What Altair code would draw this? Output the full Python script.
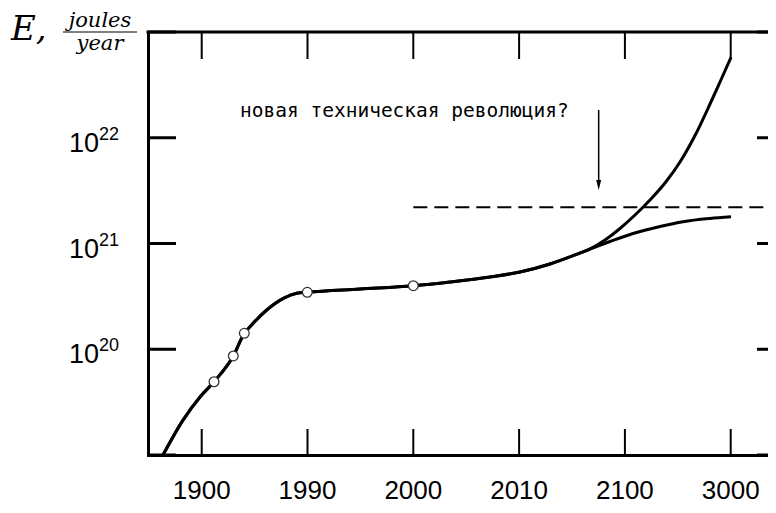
import altair as alt
import pandas as pd

# ---- data ----
YEAR_LABELS = ["1900", "1990", "2000", "2010", "2100", "3000"]
TICK_POS = [0, 1, 2, 3, 4, 5]
Y_TICK_VALUES = [1e19, 1e20, 1e21, 1e22, 1e23]
Y_LABEL_EXPONENTS = [20, 21, 22]
Y_LABEL_BASE = "10"

COMMON_X = [-0.3658, -0.1767, -0.0161, 0.1163, 0.2987, 0.4026, 0.4565, 0.6144, 0.7713,
            0.8979, 0.9981, 1.4962, 2.0, 2.3469, 2.725, 3.0085, 3.2921, 3.5284, 3.6701]
COMMON_E = [1.0e19, 2.14e19, 3.54e19, 4.93e19, 8.64e19, 1.415e20, 1.634e20, 2.35e20,
            3.03e20, 3.38e20, 3.455e20, 3.713e20, 3.99e20, 4.325e20, 4.82e20, 5.38e20,
            6.40e20, 7.79e20, 8.87e20]
UPPER_X = [3.8119, 3.9537, 4.0955, 4.2372, 4.379, 4.5208, 4.6626, 4.8043, 4.8989, 5.0028]
UPPER_E = [1.079e21, 1.387e21, 1.86e21, 2.578e21, 3.734e21, 5.897e21, 1.05e22, 2.085e22,
           3.367e22, 5.741e22]
LOWER_X = [3.8592, 4.0766, 4.3318, 4.5492, 4.8043, 5.0028]
LOWER_E = [1.044e21, 1.243e21, 1.448e21, 1.607e21, 1.724e21, 1.788e21]

CIRCLE_X = [0.1163, 0.2987, 0.4026, 0.9981, 2.0]
CIRCLE_E = [4.93e19, 8.64e19, 1.415e20, 3.455e20, 3.99e20]

DASH_X0, DASH_X1, DASH_E = 2.0, 5.36, 2.2e21
ARROW_X, ARROW_TOP, ARROW_TIP = 3.752, 1.83e22, 3.57e21
NOTE_X, NOTE_E = 0.362, 1.57e22
NOTE_TEXT = "новая техническая революция?"

TITLE_MAIN = "E,"
TITLE_NUM = "joules"
TITLE_DEN = "year"

# ---- layout ----
W, H = 620, 423
xs = alt.Scale(domain=[-0.5076, 5.3525], nice=False, zero=False)
ys = alt.Scale(type="log", domain=[1e19, 1e23], nice=False)
xa = alt.Axis(labels=False, ticks=False, grid=False, domain=True, domainWidth=3,
              domainColor="black", title=None, domainCap="square")
ya = alt.Axis(labels=False, ticks=False, grid=False, domain=True, domainWidth=3,
              domainColor="black", title=None, domainCap="square")

rows = []
for x, e in zip(COMMON_X + UPPER_X, COMMON_E + UPPER_E):
    rows.append({"x": x, "E": e, "s": "upper"})
for x, e in zip(COMMON_X + LOWER_X, COMMON_E + LOWER_E):
    rows.append({"x": x, "E": e, "s": "lower"})
curve_df = pd.DataFrame(rows)

curves = alt.Chart(curve_df).mark_line(
    interpolate="monotone", strokeWidth=3, color="black", clip=True
).encode(
    x=alt.X("x:Q", scale=xs, axis=xa),
    y=alt.Y("E:Q", scale=ys, axis=ya),
    detail="s:N",
)

circles = alt.Chart(pd.DataFrame({"x": CIRCLE_X, "E": CIRCLE_E})).mark_point(
    shape="circle", filled=True, fill="white", stroke="#333333", strokeWidth=1.3,
    size=95, opacity=1
).encode(
    x=alt.X("x:Q", scale=xs, axis=xa),
    y=alt.Y("E:Q", scale=ys, axis=ya),
)

dash = alt.Chart(pd.DataFrame({"x0": [DASH_X0], "x1": [DASH_X1], "E": [DASH_E]})).mark_rule(
    strokeDash=[14, 7], strokeWidth=2, color="black"
).encode(
    x=alt.X("x0:Q", scale=xs, axis=xa),
    x2="x1:Q",
    y=alt.Y("E:Q", scale=ys, axis=ya),
)

arrow_df = pd.DataFrame({"x": [ARROW_X], "top": [ARROW_TOP], "tip": [ARROW_TIP]})
arrow_line = alt.Chart(arrow_df).mark_rule(strokeWidth=1.5, color="black").encode(
    x=alt.X("x:Q", scale=xs, axis=xa),
    y=alt.Y("top:Q", scale=ys, axis=ya),
    y2="tip:Q",
)
arrow_head = alt.Chart(arrow_df).mark_point(
    shape="M-0.5,-1L0.5,-1L0,1Z", size=100, filled=True, color="black", opacity=1
).encode(
    x=alt.X("x:Q", scale=xs, axis=xa),
    y=alt.Y("tip:Q", scale=ys, axis=ya),
)

note = alt.Chart(pd.DataFrame({"x": [NOTE_X], "E": [NOTE_E], "t": [NOTE_TEXT]})).mark_text(
    align="left", baseline="alphabetic", font="DejaVu Sans Mono", fontSize=19.5, color="black"
).encode(
    x=alt.X("x:Q", scale=xs, axis=xa),
    y=alt.Y("E:Q", scale=ys, axis=ya),
    text="t:N",
)

# ticks (pointing inward)
xt_df = pd.DataFrame({"x": TICK_POS})
xticks_bottom = alt.Chart(xt_df).mark_rule(strokeWidth=2, color="black").encode(
    x=alt.X("x:Q", scale=xs, axis=xa), y=alt.value(H), y2=alt.value(H - 26)
)
xticks_top = alt.Chart(xt_df).mark_rule(strokeWidth=2, color="black").encode(
    x=alt.X("x:Q", scale=xs, axis=xa), y=alt.value(0), y2=alt.value(27)
)
yt_df = pd.DataFrame({"E": Y_TICK_VALUES})
yticks_left = alt.Chart(yt_df).mark_rule(strokeWidth=3, color="black").encode(
    y=alt.Y("E:Q", scale=ys, axis=ya), x=alt.value(0), x2=alt.value(28)
)
yticks_right = alt.Chart(yt_df).mark_rule(strokeWidth=3, color="black").encode(
    y=alt.Y("E:Q", scale=ys, axis=ya), x=alt.value(W - 11), x2=alt.value(W)
)

# top frame line
top_line = alt.Chart(pd.DataFrame({"a": [0]})).mark_rule(
    strokeWidth=3, color="black", strokeCap="square"
).encode(x=alt.value(0), x2=alt.value(W), y=alt.value(0))

# x labels
xlab = alt.Chart(pd.DataFrame({"x": TICK_POS, "t": YEAR_LABELS})).mark_text(
    align="center", baseline="alphabetic", font="Liberation Sans", fontSize=26, color="black"
).encode(x=alt.X("x:Q", scale=xs, axis=xa), y=alt.value(H + 44), text="t:N")

# y labels with superscript exponents
ylab_df = pd.DataFrame({
    "E": [10.0 ** e for e in Y_LABEL_EXPONENTS],
    "base": [Y_LABEL_BASE] * len(Y_LABEL_EXPONENTS),
    "exp": [str(e) for e in Y_LABEL_EXPONENTS],
})
ylab_base = alt.Chart(ylab_df).mark_text(
    align="right", baseline="alphabetic", font="Liberation Sans", fontSize=27, dy=14, color="black"
).encode(y=alt.Y("E:Q", scale=ys, axis=ya), x=alt.value(-49), text="base:N")
ylab_exp = alt.Chart(ylab_df).mark_text(
    align="left", baseline="alphabetic", font="Liberation Sans", fontSize=18, dy=2, color="black"
).encode(y=alt.Y("E:Q", scale=ys, axis=ya), x=alt.value(-49), text="exp:N")

# title: E, joules/year
one = pd.DataFrame({"a": [0]})
t_main = alt.Chart(one).mark_text(
    align="left", baseline="alphabetic", font="DejaVu Serif", fontStyle="italic",
    fontSize=34, color="black"
).encode(x=alt.value(-137), y=alt.value(8), text=alt.value(TITLE_MAIN))
t_num = alt.Chart(one).mark_text(
    align="center", baseline="alphabetic", font="DejaVu Serif", fontStyle="italic",
    fontSize=21, color="black"
).encode(x=alt.value(-48), y=alt.value(-5), text=alt.value(TITLE_NUM))
t_den = alt.Chart(one).mark_text(
    align="center", baseline="alphabetic", font="DejaVu Serif", fontStyle="italic",
    fontSize=21, color="black"
).encode(x=alt.value(-48), y=alt.value(18), text=alt.value(TITLE_DEN))
t_bar = alt.Chart(one).mark_rule(strokeWidth=1.2, color="black").encode(
    x=alt.value(-85), x2=alt.value(-11), y=alt.value(0)
)

chart = alt.layer(
    curves, circles, dash, arrow_line, arrow_head, note,
    xticks_bottom, xticks_top, yticks_left, yticks_right, top_line,
    xlab, ylab_base, ylab_exp, t_main, t_num, t_den, t_bar,
).properties(
    width=W, height=H,
    autosize=alt.AutoSizeParams(type="none"),
    padding={"left": 140, "top": 24, "right": 0, "bottom": 50},
).configure_view(stroke=None)

chart.save("out.html", embed_options={"renderer": "svg", "actions": False})
